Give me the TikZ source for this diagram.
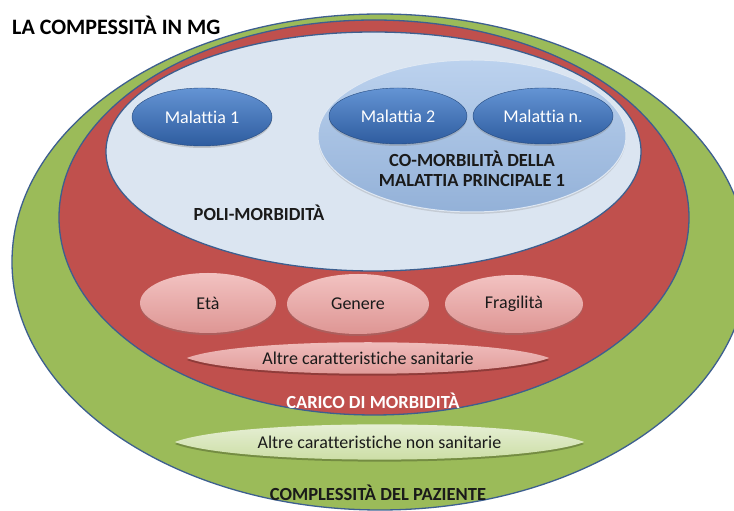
\documentclass[tikz,border=0pt]{standalone}
\usepackage{fontspec}
\setmainfont{Carlito}[Ligatures=NoCommon]
\usetikzlibrary{shapes.geometric,shadows}
\definecolor{pgreen}{HTML}{9BBB59}
\definecolor{pred}{HTML}{C0504D}
\definecolor{plblue}{HTML}{DBE5F1}
\definecolor{pline}{HTML}{3D5F8F}
\definecolor{cbtop}{HTML}{BCD2EE}
\definecolor{cbbot}{HTML}{93B1D8}
\definecolor{mtop}{HTML}{6494D4}
\definecolor{mbot}{HTML}{2E5C9F}
\definecolor{pktop}{HTML}{F2C2C1}
\definecolor{pkbot}{HTML}{DE9694}
\definecolor{lgtop}{HTML}{EAF2DC}
\definecolor{lgbot}{HTML}{C8DB9E}
\definecolor{txt}{HTML}{1A1A1A}
\begin{document}
\begin{tikzpicture}[x=1pt,y=1pt,
  ring/.style={ellipse, draw=pline, line width=1.3pt, inner sep=0pt},
  malbox/.style={ellipse, inner sep=0pt, draw=mbot!80!black, line width=0.4pt,
     top color=mtop, bottom color=mbot, text=white,
     font=\fontsize{18}{21}\selectfont,
     drop shadow={shadow xshift=0pt, shadow yshift=-2pt, opacity=0.35}},
  pinkbox/.style={ellipse, inner sep=0pt, top color=pktop, bottom color=pkbot,
     text=txt, font=\fontsize{18}{21}\selectfont,
     drop shadow={shadow xshift=0pt, shadow yshift=-2pt, opacity=0.3}},
  lbl/.style={font=\bfseries\fontsize{18.5}{21}\selectfont, text=txt, align=center},
  lenslbl/.style={inner sep=0pt, text=txt, font=\fontsize{18}{21}\selectfont}
]
\useasboundingbox (0,0) rectangle (734,511);
\clip (0,0) rectangle (734,511);
\fill[white] (0,0) rectangle (734,511);

% outer rings
\node[ring, fill=pgreen, minimum width=736, minimum height=496] (green) at (380,249) {};
\node[ring, fill=pred, minimum width=630, minimum height=395] (red) at (374,293.5) {};
\node[ring, fill=plblue, minimum width=535, minimum height=239] (poli) at (373.5,359.5) {};

% co-morbidity ellipse
\node[ellipse, inner sep=0pt, minimum width=308, minimum height=152,
      top color=cbtop, bottom color=cbbot, draw=white!70!cbbot, line width=1pt,
      drop shadow={shadow xshift=0pt, shadow yshift=-2pt, opacity=0.25}] (comorb) at (472,375) {};

% diseases
\node[malbox, minimum width=140, minimum height=58] (m1) at (202,394) {Malattia 1};
\node[malbox, minimum width=138, minimum height=56] (m2) at (398,395) {Malattia 2};
\node[malbox, minimum width=140, minimum height=56] (mn) at (543,395) {Malattia n.};

\node[lbl] (comorbtxt) at (472,342) {CO-MORBILITÀ DELLA\\[-1pt]MALATTIA PRINCIPALE 1};
\node[lbl] (politxt) at (259,298) {POLI-MORBIDITÀ};

% patient characteristics
\node[pinkbox, minimum width=136, minimum height=60] (eta) at (208,208) {Età};
\node[pinkbox, minimum width=142, minimum height=60] (gen) at (358,207) {Genere};
\node[pinkbox, minimum width=138, minimum height=58] (fra) at (514,207) {Fragilità};

% lens: altre caratteristiche sanitarie
\node[lenslbl, minimum width=362, minimum height=30] (san) at (368,153) {};
\fill[black, opacity=0.25] ([yshift=-2pt]san.west) .. controls +(55,21) and +(-55,21) .. ([yshift=-2pt]san.east)
   .. controls +(-55,-21) and +(55,-21) .. ([yshift=-2pt]san.west) -- cycle;
\shade[top color=pktop, bottom color=pkbot] (san.west) .. controls +(55,21) and +(-55,21) .. (san.east)
   .. controls +(-55,-21) and +(55,-21) .. (san.west) -- cycle;
\node[lenslbl] (santxt) at (san.center) {Altre caratteristiche sanitarie};

\node[lbl, text=white] (carico) at (373,110) {CARICO DI MORBIDITÀ};

% lens: altre caratteristiche non sanitarie
\node[lenslbl, minimum width=409, minimum height=34] (nsan) at (379.5,69) {};
\fill[black, opacity=0.25] ([yshift=-2pt]nsan.west) .. controls +(62,23.5) and +(-62,23.5) .. ([yshift=-2pt]nsan.east)
   .. controls +(-62,-23.5) and +(62,-23.5) .. ([yshift=-2pt]nsan.west) -- cycle;
\shade[top color=lgtop, bottom color=lgbot] (nsan.west) .. controls +(62,23.5) and +(-62,23.5) .. (nsan.east)
   .. controls +(-62,-23.5) and +(62,-23.5) .. (nsan.west) -- cycle;
\node[lenslbl] (nsantxt) at (nsan.center) {Altre caratteristiche non sanitarie};

\node[lbl] (compl) at (378,18) {COMPLESSITÀ DEL PAZIENTE};

% title
\node[anchor=west, inner sep=0pt, font=\bfseries\fontsize{22}{26}\selectfont, text=black] (title) at (12,486) {LA COMPESSITÀ IN MG};
\end{tikzpicture}
\end{document}
